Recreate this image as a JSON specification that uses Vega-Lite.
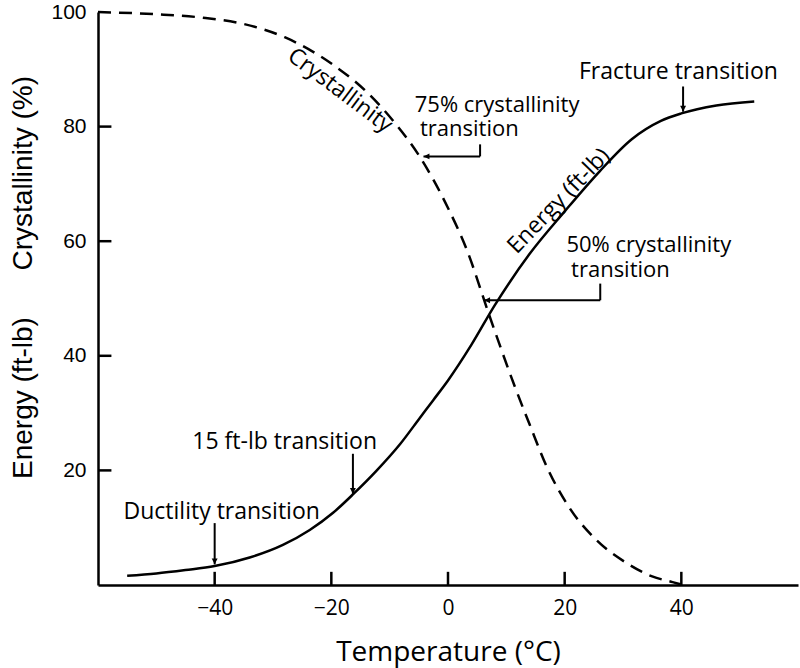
{
  "$schema": "https://vega.github.io/schema/vega-lite/v6.json",
  "description": "Energy and crystallinity versus temperature, with transition annotations",
  "width": 700,
  "height": 573,
  "autosize": {"type": "none"},
  "padding": {"left": 98, "top": 12, "right": 2, "bottom": 83},
  "background": "white",
  "config": {
    "view": {"stroke": null},
    "font": "Open Sans"
  },
  "datasets": {
    "energy": [
      {"temp": -55, "value": 1.6},
      {"temp": -50, "value": 2.0},
      {"temp": -45, "value": 2.6},
      {"temp": -40, "value": 3.3},
      {"temp": -34, "value": 4.8},
      {"temp": -28.3, "value": 7.0},
      {"temp": -23.7, "value": 9.6},
      {"temp": -19.7, "value": 12.6},
      {"temp": -16.3, "value": 15.8},
      {"temp": -12.2, "value": 20.0},
      {"temp": -8.2, "value": 24.6},
      {"temp": -4.8, "value": 29.2},
      {"temp": -2.5, "value": 32.3},
      {"temp": 0, "value": 35.7},
      {"temp": 4, "value": 41.9},
      {"temp": 8, "value": 48.8},
      {"temp": 14, "value": 57.8},
      {"temp": 20, "value": 65.2},
      {"temp": 26, "value": 72.2},
      {"temp": 31.5, "value": 77.8},
      {"temp": 36.5, "value": 81.0},
      {"temp": 40, "value": 82.3},
      {"temp": 46, "value": 83.7},
      {"temp": 52.5, "value": 84.4}
    ],
    "crystallinity": [
      {"temp": -60, "value": 100},
      {"temp": -50, "value": 99.6},
      {"temp": -42, "value": 99.0},
      {"temp": -35, "value": 97.9},
      {"temp": -28, "value": 95.6},
      {"temp": -20, "value": 91.0},
      {"temp": -14, "value": 86.1},
      {"temp": -9, "value": 80.5},
      {"temp": -5, "value": 75.0},
      {"temp": 0, "value": 65.8},
      {"temp": 3.3, "value": 58.3},
      {"temp": 7, "value": 47.3},
      {"temp": 9, "value": 41.5},
      {"temp": 11.5, "value": 34.5},
      {"temp": 14, "value": 28.0},
      {"temp": 17, "value": 20.5},
      {"temp": 21, "value": 13.2},
      {"temp": 25.5, "value": 7.8},
      {"temp": 30.5, "value": 3.9},
      {"temp": 35, "value": 1.5},
      {"temp": 38.5, "value": 0.5},
      {"temp": 40, "value": 0.1}
    ],
    "tickMarks": [
      {"temp": -40, "value": 0, "temp2": -40, "value2": 2.3},
      {"temp": -20, "value": 0, "temp2": -20, "value2": 2.3},
      {"temp": 0, "value": 0, "temp2": 0, "value2": 2.3},
      {"temp": 20, "value": 0, "temp2": 20, "value2": 2.3},
      {"temp": 40, "value": 0, "temp2": 40, "value2": 2.3},
      {"temp": -60, "value": 20, "temp2": -57.7, "value2": 20},
      {"temp": -60, "value": 40, "temp2": -57.7, "value2": 40},
      {"temp": -60, "value": 60, "temp2": -57.7, "value2": 60},
      {"temp": -60, "value": 80, "temp2": -57.7, "value2": 80}
    ],
    "segments": [
      {"temp": 40.3, "value": 87, "temp2": 40.3, "value2": 82.6},
      {"temp": -16.3, "value": 22.9, "temp2": -16.3, "value2": 15.9},
      {"temp": -40, "value": 10.8, "temp2": -40, "value2": 3.6},
      {"temp": 5.5, "value": 76.9, "temp2": 5.5, "value2": 74.8},
      {"temp": 5.5, "value": 74.8, "temp2": -4.2, "value2": 74.8},
      {"temp": 26.1, "value": 52.6, "temp2": 26.1, "value2": 49.7},
      {"temp": 26.1, "value": 49.7, "temp2": 6.2, "value2": 49.7}
    ],
    "arrowsDown": [
      {"temp": 40.3, "value": 82.6},
      {"temp": -16.3, "value": 15.9},
      {"temp": -40, "value": 3.6}
    ],
    "arrowsLeft": [
      {"temp": -4.2, "value": 74.8},
      {"temp": 6.2, "value": 49.7}
    ],
    "labelsCenter": [
      {"temp": 39.5, "value": 89.6, "label": "Fracture transition"},
      {"temp": -28, "value": 24.9, "label": "15 ft-lb transition"},
      {"temp": -38.8, "value": 12.7, "label": "Ductility transition"}
    ],
    "labelsLeft": [
      {"temp": -5.7, "value": 83.8, "label": "75% crystallinity"},
      {"temp": -4.8, "value": 79.5, "label": "transition"},
      {"temp": 20.3, "value": 59.3, "label": "50% crystallinity"},
      {"temp": 21.1, "value": 55.0, "label": "transition"}
    ],
    "labelCryst": [
      {"temp": -18.5, "value": 86.3, "label": "Crystallinity"}
    ],
    "labelEnergy": [
      {"temp": 19, "value": 67, "label": "Energy (ft-lb)"}
    ]
  },
  "encoding": {
    "x": {
      "field": "temp",
      "type": "quantitative",
      "scale": {"domain": [-60, 60], "nice": false, "zero": false},
      "axis": {
        "values": [-40, -20, 0, 20, 40],
        "grid": false,
        "ticks": false,
        "tickSize": 0,
        "domainColor": "black",
        "domainWidth": 2.5,
        "labelFont": "Open Sans",
        "labelFontSize": 21,
        "labelColor": "black",
        "labelPadding": 12,
        "title": "Temperature (°C)",
        "titleFont": "Open Sans",
        "titleFontSize": 28,
        "titleFontWeight": "normal",
        "titleColor": "black",
        "titleY": 67,
        "titleBaseline": "middle"
      }
    },
    "y": {
      "field": "value",
      "type": "quantitative",
      "scale": {"domain": [0, 100], "nice": false},
      "axis": {
        "values": [20, 40, 60, 80, 100],
        "grid": false,
        "ticks": false,
        "tickSize": 0,
        "domainColor": "black",
        "domainWidth": 2.5,
        "labelFont": "Liberation Sans",
        "labelFontSize": 21,
        "labelColor": "black",
        "labelPadding": 12,
        "title": "Energy (ft-lb)\u00a0\u00a0\u00a0\u00a0\u00a0\u00a0Crystallinity (%)",
        "titleFont": "Liberation Sans",
        "titleFontSize": 28,
        "titleFontWeight": "normal",
        "titleColor": "black",
        "titleAngle": -90,
        "titleX": -75,
        "titleY": 265,
        "titleAlign": "center",
        "titleBaseline": "middle"
      }
    }
  },
  "layer": [
    {
      "data": {"name": "crystallinity"},
      "mark": {"type": "line", "interpolate": "monotone", "color": "black", "strokeWidth": 2.5, "strokeDash": [13, 8]}
    },
    {
      "data": {"name": "energy"},
      "mark": {"type": "line", "interpolate": "monotone", "color": "black", "strokeWidth": 2.5}
    },
    {
      "data": {"name": "tickMarks"},
      "mark": {"type": "rule", "color": "black", "strokeWidth": 2.5},
      "encoding": {
        "x2": {"field": "temp2"},
        "y2": {"field": "value2"}
      }
    },
    {
      "data": {"name": "segments"},
      "mark": {"type": "rule", "color": "black", "strokeWidth": 2},
      "encoding": {
        "x2": {"field": "temp2"},
        "y2": {"field": "value2"}
      }
    },
    {
      "data": {"name": "arrowsDown"},
      "mark": {"type": "point", "shape": "M0,0L-0.5,-1L0.5,-1Z", "filled": true, "color": "black", "size": 140, "opacity": 1}
    },
    {
      "data": {"name": "arrowsLeft"},
      "mark": {"type": "point", "shape": "M0,0L1,-0.5L1,0.5Z", "filled": true, "color": "black", "size": 140, "opacity": 1}
    },
    {
      "data": {"name": "labelsCenter"},
      "mark": {"type": "text", "align": "center", "baseline": "middle", "font": "Open Sans", "fontSize": 23, "color": "black"},
      "encoding": {"text": {"field": "label"}}
    },
    {
      "data": {"name": "labelsLeft"},
      "mark": {"type": "text", "align": "left", "baseline": "middle", "font": "Open Sans", "fontSize": 22, "color": "black"},
      "encoding": {"text": {"field": "label"}}
    },
    {
      "data": {"name": "labelCryst"},
      "mark": {"type": "text", "align": "center", "baseline": "middle", "angle": 37, "font": "Open Sans", "fontSize": 23, "color": "black"},
      "encoding": {"text": {"field": "label"}}
    },
    {
      "data": {"name": "labelEnergy"},
      "mark": {"type": "text", "align": "center", "baseline": "middle", "angle": -46, "font": "Open Sans", "fontSize": 23, "color": "black"},
      "encoding": {"text": {"field": "label"}}
    }
  ]
}
